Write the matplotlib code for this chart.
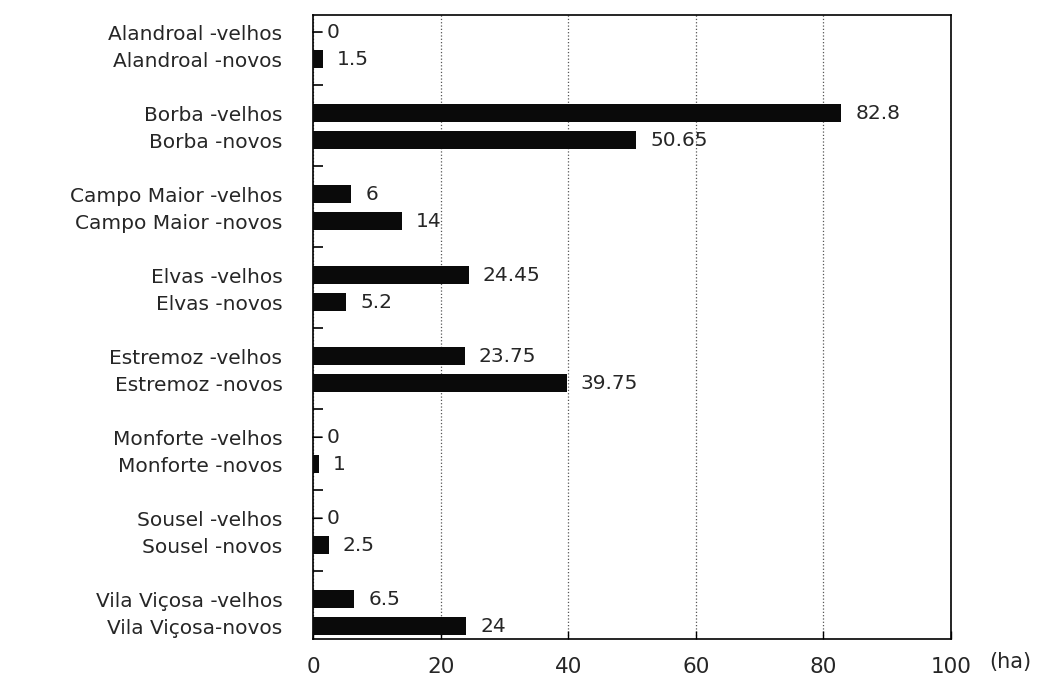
import matplotlib
matplotlib.use("Agg")
import matplotlib.pyplot as plt
import numpy as np

plt.rcParams['font.family'] = ['DejaVu Sans']

municipios = ["Alandroal", "Borba", "Campo Maior", "Elvas", "Estremoz",
              "Monforte", "Sousel", "Vila Viçosa"]
labels_velhos = ["Alandroal -velhos", "Borba -velhos", "Campo Maior -velhos",
                 "Elvas -velhos", "Estremoz -velhos", "Monforte -velhos",
                 "Sousel -velhos", "Vila Viçosa -velhos"]
labels_novos = ["Alandroal -novos", "Borba -novos", "Campo Maior -novos",
                "Elvas -novos", "Estremoz -novos", "Monforte -novos",
                "Sousel -novos", "Vila Viçosa-novos"]
velhos = [0, 82.8, 6, 24.45, 23.75, 0, 0, 6.5]
novos = [1.5, 50.65, 14, 5.2, 39.75, 1, 2.5, 24]
x_ticks = [0, 20, 40, 60, 80, 100]

TXT = '#262626'

fig = plt.figure(figsize=(10.51, 6.80), dpi=100)
ax = fig.add_axes([313/1051, 1-639/680, 638/1051, 624/680])

g = np.arange(len(municipios))
y_v = 3*g + 0.63
y_n = 3*g + 1.63
h = 0.67

ax.barh(y_v, velhos, height=h, color='#0a0a0a', zorder=3)
ax.barh(y_n, novos, height=h, color='#0a0a0a', zorder=3)

def fmt(v):
    return f"{v:g}"

for yy, vals in ((y_v, velhos), (y_n, novos)):
    for y, v in zip(yy, vals):
        if v == 0:
            ax.annotate(fmt(v), (v, y), xytext=(10, 0), textcoords='offset points',
                        ha='left', va='center', fontsize=14.5, color=TXT,
                        arrowprops=dict(arrowstyle='-', color='black', lw=1.2,
                                        shrinkA=1.5, shrinkB=0))
        else:
            ax.annotate(fmt(v), (v, y), xytext=(10, 0), textcoords='offset points',
                        ha='left', va='center', fontsize=14.5, color=TXT)

ax.set_xlim(0, 100)
ax.set_ylim(23.1, 0)

ax.set_xticks(x_ticks)
ax.set_xticklabels([str(t) for t in x_ticks], fontsize=15.5, color=TXT)
ax.tick_params(axis='x', direction='in', length=6, width=1, pad=13)

ypos = np.concatenate([y_v, y_n])
ylabs = labels_velhos + labels_novos
ax.set_yticks(ypos)
ax.set_yticklabels(ylabs, fontsize=14.5, color=TXT)
ax.tick_params(axis='y', which='major', length=0, pad=22)

boundaries = list(3*g[:-1] + 2.58)
ax.set_yticks(boundaries, minor=True)
ax.tick_params(axis='y', which='minor', direction='in', length=7, width=1.2, color='black')

ax.grid(axis='x', linestyle=':', color='#555555', linewidth=0.9, zorder=0)
for s in ax.spines.values():
    s.set_linewidth(1.2)
    s.set_color('black')

fig.text(1010/1051, 1-662/680, "(ha)", fontsize=15, ha='center', va='center', color=TXT)

fig.savefig("out.png", dpi=100, facecolor='white')
